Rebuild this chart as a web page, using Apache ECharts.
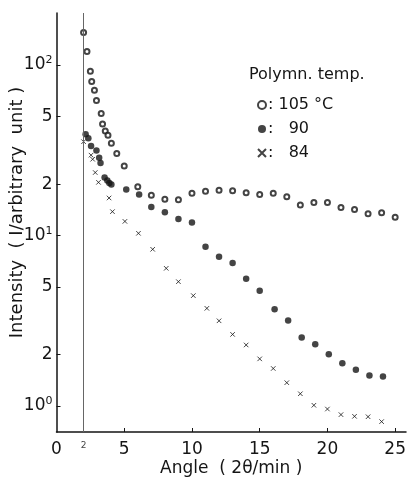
<!DOCTYPE html>
<html>
<head>
<meta charset="utf-8">
<script src="https://cdn.jsdelivr.net/npm/echarts@6/dist/echarts.min.js"></script>
<style>
  html, body { margin: 0; padding: 0; background: #fff; }
  #chart { width: 409px; height: 480px; }
</style>
</head>
<body>
<div id="chart"></div>
<script>
// Polymn. temp. 105 °C (open circles)
const x105 = [2.0, 2.25, 2.5, 2.6, 2.8, 2.95, 3.3, 3.4, 3.6, 3.8, 4.05, 4.45,
  5, 6, 7, 8, 9, 10, 11, 12, 13, 14, 15, 16, 17, 18, 19, 20, 21, 22, 23, 24, 25];
const y105 = [155, 120, 92, 80, 71, 62, 52, 45, 41, 38.7, 34.8, 30.3,
  25.6, 19.3, 17.2, 16.3, 16.2, 17.7, 18.2, 18.4, 18.3, 17.8, 17.4, 17.7, 16.9, 15.1, 15.6, 15.6, 14.6, 14.2, 13.4, 13.6, 12.8];

// 90 (filled circles)
const x90 = [2.15, 2.35, 2.55, 2.95, 3.15, 3.25, 3.55, 3.75, 3.9, 4.05,
  5.15, 6.1, 7, 8, 9, 10, 11, 12, 13, 14, 15, 16.1, 17.1, 18.1, 19.1, 20.1, 21.1, 22.1, 23.1, 24.1];
const y90 = [39.2, 37.2, 33.5, 31.5, 28.6, 26.6, 21.9, 21.0, 20.3, 19.9,
  18.6, 17.4, 14.7, 13.7, 12.5, 11.9, 8.6, 7.5, 6.9, 5.58, 4.75, 3.69, 3.17, 2.52, 2.30, 2.01, 1.78, 1.63, 1.51, 1.49];

// 84 (crosses)
const x84 = [2.0, 2.55, 2.67, 2.86, 3.1, 3.88, 4.13, 5.05, 6.05, 7.1, 8.1, 9, 10.1,
  11.1, 12, 13, 14, 15, 16, 17, 18, 19, 20, 21, 22, 23, 24];
const y84 = [35.5, 29.6, 28.0, 23.4, 20.5, 16.6, 13.8, 12.1, 10.3, 8.3, 6.42, 5.36, 4.44,
  3.74, 3.16, 2.63, 2.28, 1.89, 1.66, 1.37, 1.18, 1.01, 0.96, 0.89, 0.87, 0.865, 0.81];

const xTickLabels = [0, 2, 5, 10, 15, 20, 25];
const xTicks = [5, 10, 15, 20, 25];
const yTicks = [1, 2, 5, 10, 20, 50, 100];

const FONT = 'DejaVu Sans';
const INK = '#151515';
const crossPath = 'path://M0,0L10,10M10,0L0,10';

function pairs(xs, ys) {
  return xs.map((x, i) => [x, ys[i]]);
}

const chart = echarts.init(document.getElementById('chart'));

chart.setOption({
  backgroundColor: '#fff',
  animation: false,
  textStyle: { fontFamily: FONT, color: INK },
  title: {
    text: 'Polymn. temp.',
    left: 244,
    top: 62,
    textStyle: { fontFamily: FONT, fontSize: 16, fontWeight: 'normal', color: INK }
  },
  legend: {
    orient: 'vertical',
    left: 252,
    top: 92,
    itemWidth: 8,
    itemHeight: 8,
    itemGap: 8,
    textStyle: { fontFamily: FONT, fontSize: 16, color: INK, padding: [0, 0, 0, -3] },
    formatter: function (name) {
      return name === '105' ? ': 105 °C' : ': \u2007' + name;
    },
    data: ['105', '90', '84']
  },
  grid: { left: 56.5, right: 3, top: 13, bottom: 48, outerBoundsMode: 'none' },
  xAxis: {
    type: 'value',
    min: 0,
    max: 25.8,
    name: 'Angle  ( 2θ/min )',
    nameLocation: 'middle',
    nameGap: 28,
    nameMoveOverlap: false,
    nameTextStyle: { fontFamily: FONT, fontSize: 17, color: INK },
    axisLine: { lineStyle: { color: INK, width: 1.5 } },
    axisTick: { inside: true, length: 4, customValues: xTicks, lineStyle: { color: INK } },
    axisLabel: {
      customValues: xTickLabels,
      margin: 9,
      fontFamily: FONT,
      fontSize: 17,
      color: INK,
      formatter: function (v) {
        return v === 2 ? '{s|2}' : String(v);
      },
      rich: { s: { fontSize: 9, color: '#444', verticalAlign: 'top', padding: [0, 0, 8, 0] } }
    },
    splitLine: { show: false }
  },
  yAxis: {
    type: 'log',
    logBase: 10,
    min: 0.704,
    max: 201.8,
    name: 'Intensity  ( I/arbitrary  unit )',
    nameLocation: 'middle',
    nameGap: 30,
    nameMoveOverlap: false,
    nameTextStyle: { fontFamily: FONT, fontSize: 18, color: INK, padding: [0, 0, 0, 20] },
    axisLine: { show: true, lineStyle: { color: INK, width: 1.5 } },
    axisTick: { show: true, inside: true, length: 4, customValues: yTicks, lineStyle: { color: INK } },
    axisLabel: {
      customValues: yTicks,
      margin: 4,
      fontFamily: FONT,
      fontSize: 17,
      color: INK,
      formatter: function (v) {
        const p = Math.floor(Math.log10(v) + 1e-9);
        const m = Math.round(v / Math.pow(10, p));
        if (m === 1) return '{b|10}{s|' + p + '}';
        return String(m);
      },
      rich: {
        b: { fontSize: 17, fontFamily: FONT, color: INK },
        s: { fontSize: 11, fontFamily: FONT, color: INK, verticalAlign: 'top', padding: [0, 0, 9, 0] }
      }
    },
    splitLine: { show: false }
  },
  series: [
    {
      name: '105',
      type: 'scatter',
      symbol: 'emptyCircle',
      symbolSize: 5,
      itemStyle: { color: INK, borderWidth: 1 },
      data: pairs(x105, y105),
      markLine: {
        silent: true,
        symbol: 'none',
        label: { show: false },
        lineStyle: { color: '#666', width: 1, type: 'solid' },
        data: [{ xAxis: 2 }]
      }
    },
    {
      name: '90',
      type: 'scatter',
      symbol: 'circle',
      symbolSize: 6.5,
      itemStyle: { color: INK },
      data: pairs(x90, y90)
    },
    {
      name: '84',
      type: 'scatter',
      symbol: crossPath,
      symbolSize: 4.5,
      itemStyle: { color: INK, borderColor: INK, borderWidth: 1 },
      data: pairs(x84, y84)
    }
  ]
});
</script>
</body>
</html>
